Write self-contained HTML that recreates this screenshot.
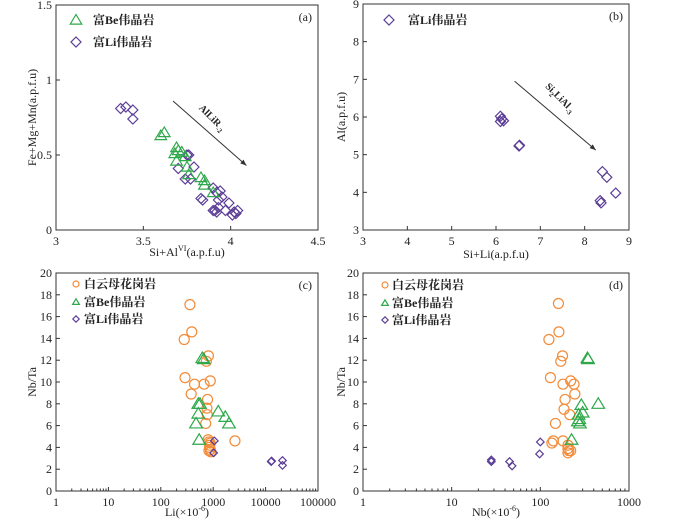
<!DOCTYPE html>
<html><head><meta charset="utf-8"><style>
html,body{margin:0;padding:0;background:#fff;}
svg{display:block;font-family:"Liberation Serif","Noto Serif CJK SC",serif;}
</style></head><body>
<svg id="s" width="700" height="521" viewBox="0 0 700 521" xmlns="http://www.w3.org/2000/svg"></svg>
<script>
// ---- data ----
const aLiX=[3.37,3.40,3.44,3.44,3.75,3.76,3.70,3.74,3.77,3.79,3.84,3.83,3.90,3.92,3.94,3.93,3.91,3.90,3.93,3.92,3.97,3.99,4.01,4.03,4.04,4.02,3.95];
const aLiY=[0.81,0.82,0.80,0.74,0.50,0.50,0.41,0.34,0.34,0.42,0.20,0.21,0.28,0.25,0.26,0.20,0.13,0.13,0.15,0.12,0.13,0.18,0.10,0.11,0.13,0.12,0.22];
const aBeX=[3.60,3.62,3.69,3.68,3.70,3.72,3.69,3.74,3.75,3.76,3.83,3.85,3.85,3.90];
const aBeY=[0.63,0.65,0.55,0.51,0.53,0.52,0.46,0.49,0.42,0.37,0.35,0.33,0.30,0.25];
const bLiX=[6.10,6.10,6.17,6.13,6.53,6.52,8.40,8.50,8.70,8.35,8.37];
const bLiY=[6.02,5.88,5.90,5.95,5.25,5.23,4.55,4.40,3.98,3.78,3.72];
const cGrX=[360,390,280,810,740,290,440,670,880,380,780,760,770,720,800,830,880,850,880,900,830,2600,860];
const cGrY=[17.1,14.6,13.9,12.4,11.9,10.4,9.8,9.8,10.1,8.9,8.4,7.6,7.0,6.2,4.7,4.5,4.4,4.0,3.8,3.6,3.7,4.6,4.2];
const cBeX=[620,660,520,560,520,470,540,1250,1700,2000];
const cBeY=[12.2,12.1,8.0,8.0,7.1,6.2,4.7,7.3,6.8,6.2];
const cLiX=[1050,1020,12800,13000,21000,21000];
const cLiY=[4.6,3.5,2.7,2.75,2.8,2.35];
const dGrX=[160,162,125,178,170,130,180,220,240,245,190,185,215,148,140,135,180,205,205,210,205,220];
const dGrY=[17.2,14.6,13.9,12.4,11.9,10.4,9.8,10.1,9.8,8.9,8.4,7.5,7.0,6.2,4.6,4.4,4.6,4.2,3.9,3.7,3.5,3.7];
const dBeX=[340,345,290,450,300,270,265,280,225,275];
const dBeY=[12.2,12.1,7.9,8.0,7.2,7.0,6.4,6.2,4.7,6.6];
const dLiX=[28,28,45,48,100,98];
const dLiY=[2.85,2.7,2.7,2.3,4.5,3.4];
const aXT=[3,3.5,4,4.5], aYT=[0,0.5,1,1.5];
const bXT=[3,4,5,6,7,8,9], bYT=[3,4,5,6,7,8,9];
const cXT=[1,10,100,1000,10000,100000], dXT=[1,10,100,1000];
const nbYT=[0,2,4,6,8,10,12,14,16,18,20];

const OR="#f28c3a", GR="#2ea84a", PU="#5b3d96";
const S=document.getElementById('s');
const NS="http://www.w3.org/2000/svg";
function el(t,a,p){const e=document.createElementNS(NS,t);for(const k in a)e.setAttribute(k,a[k]);(p||S).appendChild(e);return e;}
function txt(x,y,s,a,p){const e=el('text',Object.assign({x:x,y:y,'font-size':12,fill:'#222'},a||{}),p);e.textContent=s;return e;}

function panel(name,L,R,T,B,x0,x1,y0,y1,log){
  const g=el('g',{});
  
  
  const sx=log?(v=>L+(Math.log10(v)-Math.log10(x0))/(Math.log10(x1)-Math.log10(x0))*(R-L)):(v=>L+(v-x0)/(x1-x0)*(R-L));
  const sy=v=>B-(v-y0)/(y1-y0)*(B-T);
  const fr=el('rect',{x:L,y:T,width:R-L,height:B-T,fill:'none',stroke:'#333','stroke-width':1},g);
  
  
  return {g,sx,sy,L,R,T,B};
}
function xticks(P,ticks,log){
  ticks.forEach(v=>{const x=P.sx(v);el('line',{x1:x,y1:P.B,x2:x,y2:P.B-4,stroke:'#333'},P.g);
    const t=txt(x,P.B+15,String(v),{'text-anchor':'middle'},P.g);
    
    });
  if(log){for(let i=0;i<ticks.length-1;i++)for(let m=2;m<10;m++){const x=P.sx(ticks[i]*m);el('line',{x1:x,y1:P.B,x2:x,y2:P.B-2.5,stroke:'#333'},P.g);}}
}
function yticks(P,ticks){
  ticks.forEach(v=>{const y=P.sy(v);el('line',{x1:P.L,y1:y,x2:P.L+4,y2:y,stroke:'#333'},P.g);
    const t=txt(P.L-4,y+4,String(v),{'text-anchor':'end'},P.g);
    
    });
}
function mark(g,type,x,y,r,c){
  let e;
  if(type==='c')e=el('circle',{cx:x,cy:y,r:r,fill:'none',stroke:c,'stroke-width':1.2},g);
  else if(type==='t')e=el('polygon',{points:`${x},${y-r} ${x-r*1.05},${y+r*0.75} ${x+r*1.05},${y+r*0.75}`,fill:'none',stroke:c,'stroke-width':1.2},g);
  else e=el('polygon',{points:`${x},${y-r} ${x+r},${y} ${x},${y+r} ${x-r},${y}`,fill:'none',stroke:c,'stroke-width':1.2},g);
  return e;
}
function series(P,xs,ys,type,r,c,nm){
  xs.forEach((v,i)=>{const m=mark(P.g,type,P.sx(v),P.sy(ys[i]),r,c);
    
    });
}
function legend(P,x,y,type,r,c,label,tx){
  const m=mark(P.g,type,x,y,r,c);
  
  
  const t=txt(tx,y+4,label,{'font-weight':'bold','font-size':12},P.g);
  
  
}
function ytitle(P,x,s){const t=txt(x,(P.T+P.B)/2,s,{'text-anchor':'middle',transform:`rotate(-90 ${x} ${(P.T+P.B)/2})`,'font-size':12},P.g);
  return t;}
function xtitle(P,y,s){const t=txt((P.L+P.R)/2,y,s,{'text-anchor':'middle','font-size':12},P.g);
  return t;}
function tag(P,s){const t=txt(P.R-6,P.T+16,s,{'text-anchor':'end'},P.g);
  }
function arrow(P,x0,y0,x1,y1,lab,lx,ly,ang){
  const a=P.sx(x0),b=P.sy(y0),c=P.sx(x1),d=P.sy(y1);
  const ln=el('line',{x1:a,y1:b,x2:c,y2:d,stroke:'#333','stroke-width':1},P.g);
  
  const ang2=Math.atan2(d-b,c-a);
  const h=6,w=2.5;
  const px=c-h*Math.cos(ang2),py=d-h*Math.sin(ang2);
  el('polygon',{points:`${c},${d} ${px+w*Math.sin(ang2)},${py-w*Math.cos(ang2)} ${px-w*Math.sin(ang2)},${py+w*Math.cos(ang2)}`,fill:'#333'},P.g);
  const t=el('text',{x:lx,y:ly,'font-size':10,'font-weight':'bold',fill:'#222','text-anchor':'middle',transform:`rotate(${ang} ${lx} ${ly})`},P.g);
  t.innerHTML=lab;
  
}

// Panel a
const A=panel('panel-a',56,318,5,230,3,4.5,0,1.5,false);
xticks(A,aXT);yticks(A,aYT);
series(A,aLiX,aLiY,'d',5,PU,'li-pegmatite-point');
series(A,aBeX,aBeY,'t',5.5,GR,'be-pegmatite-point');
arrow(A,3.67,0.86,4.09,0.43,'AlLiR<tspan font-size="7" dy="3">-2</tspan>',210,120,45);
legend(A,76,20,'t',5.5,GR,'富Be伟晶岩',93);
legend(A,76,42,'d',5,PU,'富Li伟晶岩',93);
tag(A,'(a)');
ytitle(A,36,'Fe+Mg+Mn(a.p.f.u)');
const xa=xtitle(A,256,'');xa.innerHTML='Si+Al<tspan font-size="8" dy="-5">VI</tspan><tspan dy="5">(a.p.f.u)</tspan>';

// Panel b
const Bp=panel('panel-b',363,629,4,230,3,9,3,9,false);
xticks(Bp,bXT);yticks(Bp,bYT);
series(Bp,bLiX,bLiY,'d',5,PU,'li-pegmatite-point');
arrow(Bp,6.42,6.95,8.25,5.12,'Si<tspan font-size="7" dy="3">2</tspan><tspan dy="-3">LiAl</tspan><tspan font-size="7" dy="3">-3</tspan>',558,100,45);
legend(Bp,389,20,'d',5,PU,'富Li伟晶岩',408);
tag(Bp,'(b)');
ytitle(Bp,345,'Al(a.p.f.u)');
xtitle(Bp,258,'Si+Li(a.p.f.u)');

// Panel c
const C=panel('panel-c',56,318,273,491,1,100000,0,20,true);
xticks(C,cXT,true);yticks(C,nbYT);
series(C,cGrX,cGrY,'c',5,OR,'granite-point');
series(C,cBeX,cBeY,'t',6,GR,'be-pegmatite-point');
series(C,cLiX,cLiY,'d',3.8,PU,'li-pegmatite-point');
legend(C,76,284,'c',3,OR,'白云母花岗岩',84);
legend(C,76,302,'t',3.2,GR,'富Be伟晶岩',84);
legend(C,76,319,'d',3.2,PU,'富Li伟晶岩',84);
tag(C,'(c)');
ytitle(C,36,'Nb/Ta');
const xc=xtitle(C,516,'');xc.innerHTML='Li(×10<tspan font-size="8" dy="-5">-6</tspan><tspan dy="5">)</tspan>';

// Panel d
const D=panel('panel-d',363,629,273,491,1,1000,0,20,true);
xticks(D,dXT,true);yticks(D,nbYT);
series(D,dGrX,dGrY,'c',5,OR,'granite-point');
series(D,dBeX,dBeY,'t',6,GR,'be-pegmatite-point');
series(D,dLiX,dLiY,'d',3.8,PU,'li-pegmatite-point');
legend(D,385,285,'c',3,OR,'白云母花岗岩',392);
legend(D,385,303,'t',3.2,GR,'富Be伟晶岩',392);
legend(D,385,320,'d',3.2,PU,'富Li伟晶岩',392);
tag(D,'(d)');
ytitle(D,345,'Nb/Ta');
const xd=xtitle(D,516,'');xd.innerHTML='Nb(×10<tspan font-size="8" dy="-5">-6</tspan><tspan dy="5">)</tspan>';
</script>
</body></html>
